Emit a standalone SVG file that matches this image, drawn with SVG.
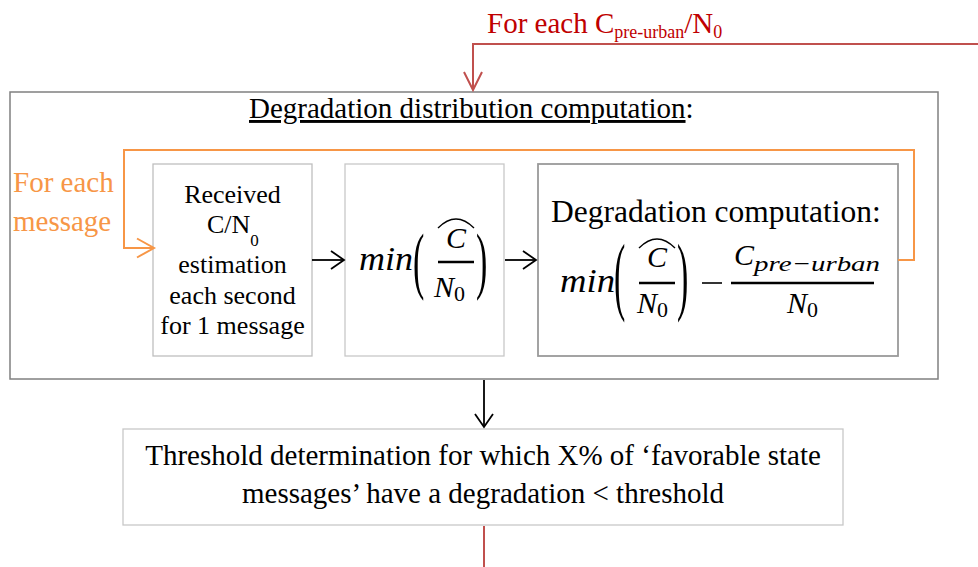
<svg xmlns="http://www.w3.org/2000/svg" width="978" height="567" viewBox="0 0 978 567" font-family="'Liberation Serif', serif">
<style>
.t{font-family:'Liberation Serif',serif;fill:#000}
.m{font-family:'Liberation Serif',serif;font-style:italic;fill:#000}
.p{font-family:'Liberation Serif',serif;fill:#000}
.box{fill:#fff}
.bar{stroke:#000;stroke-width:2.5}
.hat{fill:none;stroke:#000;stroke-width:1.4}
.conn{fill:none}
</style>
<defs>
<marker id="ab" markerUnits="userSpaceOnUse" viewBox="-16 -11 18 22" markerWidth="18" markerHeight="22" refX="0" refY="0" orient="auto" overflow="visible">
<path d="M-13,-9 L0,0 L-13,9" fill="none" stroke="#000" stroke-width="1.8"/>
</marker>
<marker id="ao" markerUnits="userSpaceOnUse" viewBox="-20 -12 22 24" markerWidth="22" markerHeight="24" refX="0" refY="0" orient="auto" overflow="visible">
<path d="M-17,-9.5 L0,0 L-17,9.5" fill="none" stroke="#f79646" stroke-width="2"/>
</marker>
<marker id="ar" markerUnits="userSpaceOnUse" viewBox="-20 -12 22 24" markerWidth="22" markerHeight="24" refX="0" refY="0" orient="auto" overflow="visible">
<path d="M-18,-9 L0,0 L-18,9" fill="none" stroke="#c0504d" stroke-width="2"/>
</marker>
</defs>
<rect width="978" height="567" fill="#fff"/>

<g id="outer">
<rect x="10" y="92" width="928" height="287" class="box" stroke="#808080" stroke-width="1.5"/>
<text class="t" x="249" y="118" font-size="29"><tspan text-decoration="underline">Degradation distribution computation</tspan>:</text>
</g>

<g id="label-top">
<text class="t" x="487" y="33" font-size="29" style="fill:#c00000">For each C<tspan font-size="18" dy="5">pre-urban</tspan><tspan dy="-5">/N</tspan><tspan font-size="18" dy="5">0</tspan></text>
</g>

<g id="label-loop">
<text class="t" x="13" y="192" font-size="29" style="fill:#f79646"><tspan>For each</tspan></text>
<text class="t" x="13" y="231" font-size="29" style="fill:#f79646" font-family="Liberation Serif">message</text>
</g>

<g id="box1">
<rect x="153" y="164" width="159" height="192" class="box" stroke="#bfbfbf" stroke-width="1.3"/>
<text class="t" font-size="26" text-anchor="middle" x="232.5" y="203"><tspan>Received</tspan></text>
<text class="t" font-size="26" x="207" y="233">C/N<tspan font-size="17" dy="13">0</tspan></text>
<text class="t" font-size="26" text-anchor="middle" x="232.5" y="273"><tspan>estimation</tspan></text>
<text class="t" font-size="26" text-anchor="middle" x="232.5" y="304"><tspan>each second</tspan></text>
<text class="t" font-size="26" text-anchor="middle" x="232.5" y="334"><tspan>for 1 message</tspan></text>
</g>

<g id="box2">
<rect x="345" y="164" width="159" height="192" class="box" stroke="#c8c8c8" stroke-width="1.3"/>
<text class="m" x="359" y="270" font-size="34" textLength="54" lengthAdjust="spacingAndGlyphs">min</text>
<text class="p" font-size="34" transform="translate(413,285) scale(1,2.15)">(</text>
<path class="hat" d="M438,228 Q447,219 456,219 Q465,219 474,228"/>
<text class="m" x="456" y="248" font-size="30" text-anchor="middle">C</text>
<line class="bar" x1="438" y1="262" x2="474" y2="262"/>
<text class="m" x="434" y="297" font-size="30">N<tspan class="p" font-style="normal" font-size="22" dy="4">0</tspan></text>
<text class="p" font-size="34" transform="translate(476,285) scale(1,2.15)">)</text>
</g>

<g id="box3">
<rect x="538" y="164" width="360" height="192" class="box" stroke="#9a9a9a" stroke-width="1.8"/>
<text class="t" x="551" y="222" font-size="31.5"><tspan>Degradation computation:</tspan></text>
<text class="m" x="560" y="292" font-size="34" textLength="55" lengthAdjust="spacingAndGlyphs">min</text>
<text class="p" font-size="34" transform="translate(614,304) scale(1,2.55)">(</text>
<path class="hat" d="M639,248 Q648,239 657,239 Q666,239 675,248"/>
<text class="m" x="657" y="267" font-size="30" text-anchor="middle">C</text>
<line class="bar" x1="639" y1="283" x2="675" y2="283"/>
<text class="m" x="637" y="313" font-size="30">N<tspan class="p" font-style="normal" font-size="22" dy="4">0</tspan></text>
<text class="p" font-size="34" transform="translate(677,304) scale(1,2.55)">)</text>
<line x1="702" y1="283" x2="722" y2="283" stroke="#000" stroke-width="1.6"/>
<line class="bar" x1="731" y1="283" x2="874" y2="283"/>
<text class="m" x="734" y="265" font-size="30">C<tspan font-size="22" dy="6" textLength="126" lengthAdjust="spacingAndGlyphs">pre−urban</tspan></text>
<text class="m" x="787" y="313" font-size="30">N<tspan class="p" font-style="normal" font-size="22" dy="4">0</tspan></text>
</g>

<g id="box4">
<rect x="123" y="429" width="720" height="96" class="box" stroke="#c8c8c8" stroke-width="1.3"/>
<text class="t" x="483" y="465" font-size="29" text-anchor="middle"><tspan>Threshold determination for which X% of ‘favorable state</tspan></text>
<text class="t" x="483" y="503" font-size="29" text-anchor="middle"><tspan>messages’ have a degradation &lt; threshold</tspan></text>
</g>

<g id="connectors">
<path class="conn" d="M978,44 H473 V90" stroke="#c0504d" stroke-width="2" marker-end="url(#ar)"/>
<path class="conn" d="M898,260 H914 V150 H124 V248 H154" stroke="#f79646" stroke-width="2" marker-end="url(#ao)"/>
<path class="conn" d="M312,260 H344" stroke="#000" stroke-width="1.8" marker-end="url(#ab)"/>
<path class="conn" d="M505,260 H536" stroke="#000" stroke-width="1.8" marker-end="url(#ab)"/>
<path class="conn" d="M484,380 V427" stroke="#000" stroke-width="1.8" marker-end="url(#ab)"/>
<path class="conn" d="M484,526 V567" stroke="#c0504d" stroke-width="2"/>
</g>
</svg>
